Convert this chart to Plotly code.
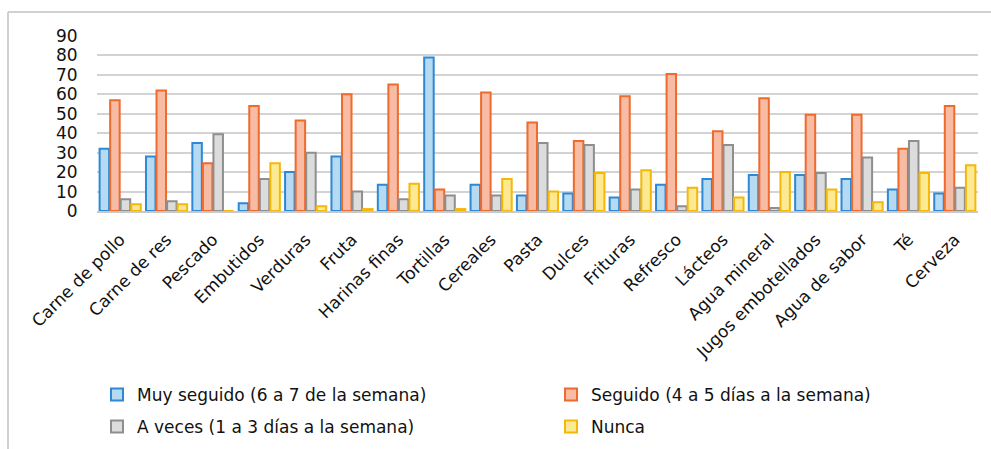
import plotly.graph_objects as go

categories = ["Carne de pollo", "Carne de res", "Pescado", "Embutidos", "Verduras", "Fruta",
              "Harinas finas", "Tortillas", "Cereales", "Pasta", "Dulces", "Frituras", "Refresco",
              "Lácteos", "Agua mineral", "Jugos embotellados", "Agua de sabor", "Té", "Cerveza"]

muy_seguido = [32, 28, 35, 4, 20, 28, 13.5, 79, 13.5, 8, 9, 7, 13.5, 16.5, 18.5, 18.5, 16.5, 11, 9]
seguido = [57, 62, 24.5, 54, 46.5, 60, 65, 11, 61, 45.5, 36, 59, 70.5, 41, 58, 49.5, 49.5, 32, 54]
a_veces = [6, 5, 39.5, 16.5, 30, 10, 6, 8, 8, 35, 34, 11, 2.5, 34, 1.5, 19.5, 27.5, 36, 12]
nunca = [3.5, 3.5, 0, 24.5, 2.5, 1, 14, 1, 16.5, 10, 19.5, 21, 12, 7, 20, 11, 4.5, 19.5, 23.5]

series_names = ["Muy seguido (6 a 7 de la semana)", "Seguido (4 a 5 días a la semana)",
                "A veces (1 a 3 días a la semana)", "Nunca"]
fills = ["#B7DAF3", "#F8BBA3", "#DCDCDC", "#FCE991"]
lines = ["#2F88D4", "#EE6A2D", "#8E8E8E", "#F5B70A"]
values = [muy_seguido, seguido, a_veces, nunca]
legend_ids = ["legend", "legend2", "legend3", "legend4"]

W, H = 991, 449
L, R, T, B = 97, 978, 36, 211

def px2x(p):
    return (p - L) / (R - L)

def px2y(p):
    return (B - p) / (B - T)

fig = go.Figure()
for name, vals, fc, lc, lid in zip(series_names, values, fills, lines, legend_ids):
    fig.add_trace(go.Bar(x=categories, y=vals, name=name, legend=lid,
                         marker=dict(color=fc, line=dict(color=lc, width=2))))

font_fam = "DejaVu Sans, sans-serif"
leg_common = dict(font=dict(family=font_fam, size=17, color="#111111"),
                  bgcolor="rgba(0,0,0,0)", xref="container", yref="container",
                  xanchor="left", yanchor="middle", itemwidth=30)
leg_pos = [(97, 395), (551, 395), (97, 427), (551, 427)]
legends = {}
for lid, (lx, ly) in zip(legend_ids, leg_pos):
    legends[lid] = dict(x=lx / W, y=1 - ly / H, **leg_common)

fig.update_layout(
    width=W, height=H,
    margin=dict(l=L, r=W - R, t=T, b=H - B, autoexpand=False),
    paper_bgcolor="white", plot_bgcolor="white",
    barmode="group", bargap=0.09, bargroupgap=0.1,
    font=dict(family=font_fam, size=17, color="#111111"),
    xaxis=dict(tickangle=-45, tickfont=dict(size=17), showgrid=False, automargin=False,
               showline=True, linecolor="#C8C8C8", linewidth=2, ticks="",
               ticklabelstandoff=10),
    yaxis=dict(range=[0, 90], dtick=10, showgrid=True, gridcolor="#D3D3D3", gridwidth=2,
               tickfont=dict(size=17), zeroline=False, ticks="outside", ticklen=15,
               tickcolor="rgba(255,255,255,0)", automargin=False),
    showlegend=True,
    **legends,
    shapes=[
        dict(type="line", xref="paper", yref="paper", x0=px2x(8), x1=px2x(995),
             y0=px2y(12), y1=px2y(12), line=dict(color="#D0D0D0", width=2)),
        dict(type="line", xref="paper", yref="paper", x0=px2x(8), x1=px2x(8),
             y0=px2y(12), y1=px2y(452), line=dict(color="#D0D0D0", width=2)),
    ],
)

fig.write_html("out.html")
